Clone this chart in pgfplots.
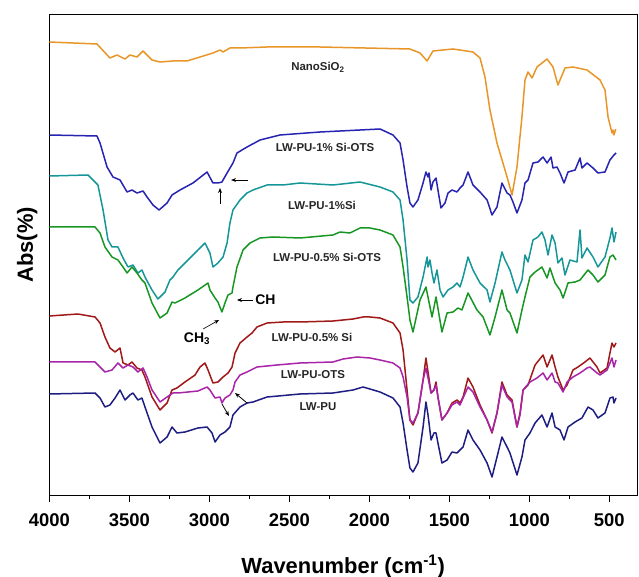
\documentclass[border=0pt]{standalone}
\usepackage{fontspec}
\setmainfont{Liberation Sans}
\usepackage{pgfplots}
\pgfplotsset{compat=1.18}
\usetikzlibrary{arrows.meta}
\definecolor{cnano}{RGB}{232,150,40}
\definecolor{csiots}{RGB}{40,36,178}
\definecolor{csi}{RGB}{22,150,152}
\definecolor{chalfots}{RGB}{24,150,36}
\definecolor{chalfsi}{RGB}{160,24,24}
\definecolor{cots}{RGB}{168,36,168}
\definecolor{cpu}{RGB}{30,30,130}

\begin{document}
\begin{tikzpicture}
\useasboundingbox (-49.3bp,-82bp) rectangle (589.7bp,495bp);
\begin{axis}[
    scale only axis, width=587.7bp, height=481bp,
    x dir=reverse, xmin=327, xmax=4000, ymin=0, ymax=481,
    xtick={500,1000,...,4000}, minor xtick={750,1250,...,3750},
    ytick=\empty,
    xtick pos=bottom, tick align=outside,
    major tick length=7bp, minor tick length=4bp,
    axis line style={line width=0.9bp},
    every tick/.style={black, line width=0.9bp},
    /pgf/number format/assume math mode=true,
    /pgf/number format/1000 sep={},
    xticklabel style={font=\fontsize{18.5}{20}\selectfont\bfseries, yshift=-8bp},
    xlabel={Wavenumber (cm\textsuperscript{-1})},
    xlabel style={font=\fontsize{22}{24}\selectfont\bfseries,
        at={(axis description cs:0.5,0)}, anchor=base, yshift=-78bp},
    ylabel={Abs(\%)},
    ylabel style={font=\fontsize{22}{24}\selectfont\bfseries,
        at={([xshift=-22bp]axis description cs:0,0.52)}, anchor=center},
    every axis plot/.append style={line width=1.5bp, line join=round},
]
% NanoSiO2
\addplot[cnano] coordinates {
(4000,453)(3702,451)(3621,437)(3577,440)(3527,436)(3496,440)(3452,438)(3414,444)
(3358,435)(3308,433)(3227,434)(3139,434)(3058,438)(2977,442)(2933,445)(2914,443)
(2871,447)(2808,447)(2639,448)(2308,448)(1746,446)(1683,442)(1639,434)(1602,444)
(1477,446)(1352,443)(1308,437)(1277,418)(1246,385)(1202,352)(1139,318)(1108,300)
(1077,328)(1046,378)(1027,415)(1008,423)(983,417)(952,428)(889,436)(852,428)
(821,410)(777,427)(727,428)(639,425)(558,415)(527,405)(508,378)(483,362)(477,365)
(471,360)(460,366)
};
% LW-PU-1% Si-OTS
\addplot[csiots] coordinates {
(4000,360)(3702,359)(3683,352)(3639,328)(3602,318)(3558,315)(3514,303)(3483,305)
(3452,302)(3433,303)(3414,304)(3389,298)(3352,290)(3314,285)(3264,292)(3233,300)
(3183,305)(3102,312)(3014,323)(2977,312)(2946,312)(2921,313)(2889,322)(2852,332)
(2827,342)(2764,348)(2683,355)(2558,360)(2308,363)(1933,366)(1852,360)(1808,352)
(1789,335)(1764,308)(1746,292)(1727,288)(1696,295)(1664,312)(1646,323)(1633,318)
(1627,322)(1614,305)(1602,313)(1583,317)(1571,305)(1552,287)(1527,292)(1508,302)
(1483,305)(1452,303)(1433,307)(1414,310)(1383,323)(1352,310)(1308,303)(1264,295)
(1233,280)(1202,288)(1171,312)(1139,302)(1121,300)(1102,293)(1077,282)(1046,295)
(1027,312)(1008,315)(977,332)(946,333)(914,338)(889,332)(864,338)(852,327)
(827,328)(808,322)(783,312)(758,323)(714,325)(683,337)(671,327)(639,332)
(602,327)(571,322)(527,323)(496,335)(471,340)(458,342)
};
% LW-PU-1%Si
\addplot[csi] coordinates {
(4000,319)(3758,320)(3714,313)(3696,310)(3664,285)(3633,255)(3608,248)(3571,248)
(3539,237)(3508,228)(3477,230)(3446,222)(3421,225)(3402,218)(3358,205)(3321,196)
(3277,203)(3246,215)(3227,218)(3196,225)(3133,235)(3071,245)(3027,252)(2996,242)
(2977,228)(2946,232)(2914,238)(2889,252)(2871,272)(2852,285)(2808,295)(2764,302)
(2727,305)(2639,310)(2539,310)(2433,312)(2227,310)(2058,313)(1933,308)(1852,303)
(1808,295)(1789,275)(1764,235)(1746,195)(1727,192)(1696,198)(1664,218)(1639,238)
(1633,228)(1621,235)(1608,222)(1596,212)(1577,225)(1558,205)(1539,198)(1508,205)
(1477,208)(1452,212)(1433,208)(1414,218)(1383,238)(1352,225)(1308,212)(1264,205)
(1246,193)(1214,212)(1171,243)(1152,235)(1121,225)(1077,202)(1046,215)(1027,240)
(1008,233)(977,255)(946,258)(921,263)(902,255)(883,240)(858,260)(839,252)
(821,232)(796,237)(777,220)(746,235)(702,233)(683,265)(671,237)(639,247)
(602,238)(571,228)(527,238)(496,257)(483,267)(471,253)(458,263)
};
% LW-PU-0.5% Si-OTS
\addplot[chalfots] coordinates {
(4000,268)(3714,268)(3683,262)(3652,248)(3608,238)(3571,235)(3539,228)(3514,222)
(3483,228)(3452,222)(3421,215)(3402,212)(3358,192)(3308,177)(3264,182)(3233,193)
(3214,192)(3152,197)(3071,205)(3008,212)(2996,205)(2964,197)(2946,193)(2921,183)
(2902,192)(2883,200)(2858,202)(2852,208)(2827,228)(2789,245)(2746,252)(2683,257)
(2602,258)(2433,257)(2227,260)(2183,263)(2121,262)(2058,267)(1996,267)(1933,265)
(1852,260)(1808,248)(1789,228)(1764,198)(1746,175)(1727,163)(1683,195)(1646,208)
(1608,178)(1583,198)(1546,163)(1514,182)(1477,183)(1446,187)(1421,185)(1383,202)
(1327,185)(1289,178)(1246,160)(1214,178)(1171,205)(1139,185)(1121,182)(1077,162)
(1046,185)(1027,198)(996,218)(964,223)(921,228)(889,217)(871,227)(839,212)
(808,205)(789,197)(758,212)(714,213)(683,215)(633,225)(602,220)(571,213)
(527,220)(496,238)(477,240)(458,235)
};
% LW-PU-0.5% Si
\addplot[chalfsi] coordinates {
(4000,179)(3821,181)(3714,178)(3683,172)(3652,158)(3621,147)(3589,143)(3558,147)
(3539,132)(3508,130)(3483,133)(3452,127)(3421,125)(3402,118)(3358,98)(3308,85)
(3264,92)(3233,105)(3202,107)(3152,113)(3089,120)(3058,128)(3027,132)(3008,125)
(2977,112)(2946,113)(2914,118)(2883,122)(2858,128)(2839,142)(2808,152)(2764,158)
(2733,162)(2702,168)(2639,172)(2539,173)(2433,173)(2227,174)(2102,176)(2039,178)
(1996,178)(1933,177)(1852,172)(1808,162)(1789,145)(1764,105)(1746,75)(1727,70)
(1696,82)(1664,115)(1646,137)(1633,123)(1614,102)(1596,105)(1583,113)(1571,98)
(1546,75)(1514,82)(1483,92)(1452,95)(1433,92)(1414,98)(1383,117)(1352,108)
(1308,90)(1264,75)(1233,62)(1202,82)(1171,113)(1139,100)(1108,95)(1077,68)
(1058,82)(1039,105)(1008,110)(964,130)(914,140)(889,128)(858,140)(839,128)
(821,118)(789,105)(764,110)(727,125)(696,128)(652,133)(621,137)(577,128)
(558,122)(514,127)(496,142)(483,152)(471,148)(458,152)
};
% LW-PU-OTS
\addplot[cots] coordinates {
(4000,133)(3714,133)(3683,128)(3652,123)(3608,125)(3571,132)(3539,127)(3508,130)
(3477,128)(3446,123)(3414,127)(3389,118)(3358,105)(3308,93)(3264,98)(3227,102)
(3196,102)(3133,103)(3071,104)(3014,108)(2996,105)(2964,97)(2933,98)(2921,92)
(2902,97)(2871,100)(2852,105)(2839,113)(2808,120)(2764,123)(2702,128)(2577,130)
(2433,132)(2227,133)(2164,136)(2077,138)(1996,137)(1933,135)(1852,132)(1808,127)
(1789,118)(1764,98)(1746,75)(1727,72)(1696,82)(1664,115)(1646,127)(1633,117)
(1614,102)(1596,105)(1583,110)(1571,98)(1546,75)(1514,82)(1483,90)(1452,93)
(1433,90)(1414,97)(1383,108)(1352,103)(1308,88)(1264,75)(1233,63)(1202,82)
(1171,110)(1139,98)(1108,93)(1077,68)(1058,80)(1039,105)(996,113)(952,117)
(914,122)(889,115)(858,122)(839,113)(821,112)(789,103)(764,113)(727,118)
(683,122)(639,127)(621,128)(577,122)(558,120)(514,125)(496,132)(483,137)
(471,128)(458,135)
};
% LW-PU
\addplot[cpu] coordinates {
(4000,101)(3714,102)(3683,97)(3652,88)(3621,90)(3589,97)(3558,105)(3527,95)
(3496,100)(3477,102)(3446,95)(3421,97)(3402,88)(3358,68)(3308,52)(3264,58)
(3233,68)(3202,62)(3152,63)(3071,67)(3014,68)(2983,62)(2964,53)(2933,60)
(2902,63)(2871,68)(2852,80)(2808,88)(2764,92)(2727,93)(2639,98)(2433,101)
(2227,102)(2102,105)(2039,108)(1996,106)(1933,103)(1852,97)(1808,88)(1789,72)
(1764,45)(1746,27)(1727,23)(1696,32)(1664,68)(1646,93)(1633,80)(1614,55)
(1596,62)(1583,62)(1571,52)(1546,32)(1514,35)(1483,43)(1452,42)(1433,45)
(1414,48)(1383,65)(1352,55)(1308,45)(1264,32)(1233,18)(1202,38)(1171,58)
(1139,48)(1121,42)(1077,20)(1046,38)(1027,55)(996,62)(964,72)(921,80)
(889,68)(858,82)(839,68)(808,65)(783,55)(758,68)(714,73)(671,77)
(633,88)(602,85)(571,77)(527,82)(496,97)(477,98)(471,92)(458,97)
};

% curve labels
\begin{scope}[every node/.style={font=\fontsize{11.5}{13}\selectfont\bfseries, text=black!85}]
\node at (axis cs:2321,428) {NanoSiO\textsubscript{2}};
\node at (axis cs:2277,348) {LW-PU-1\% Si-OTS};
\node at (axis cs:2296,290) {LW-PU-1\%Si};
\node at (axis cs:2264,238) {LW-PU-0.5\% Si-OTS};
\node at (axis cs:2358,158) {LW-PU-0.5\% Si};
\node at (axis cs:2352,120) {LW-PU-OTS};
\node at (axis cs:2321,88) {LW-PU};
\end{scope}

% annotations
\begin{scope}[line width=0.9bp, -{Stealth[length=5bp,width=4bp]}]
\draw (axis cs:2758,315) -- (axis cs:2864,315);
\draw (axis cs:2933,291) -- (axis cs:2933,307);
\draw (axis cs:2727,195) -- (axis cs:2827,195);
\draw[line width=0.6bp] (axis cs:3039,166) -- (axis cs:2939,175);
\draw[line width=0.8bp] (axis cs:2921,91) -- (axis cs:2877,79);
\draw[line width=0.8bp] (axis cs:2764,92) -- (axis cs:2839,102);
\end{scope}
\node[font=\fontsize{14}{16}\selectfont\bfseries, anchor=west, inner sep=1bp] at (axis cs:2720,195) {CH};
\node[font=\fontsize{14}{16}\selectfont\bfseries] at (axis cs:3077,156) {CH\textsubscript{3}};
\end{axis}
\end{tikzpicture}
\end{document}
